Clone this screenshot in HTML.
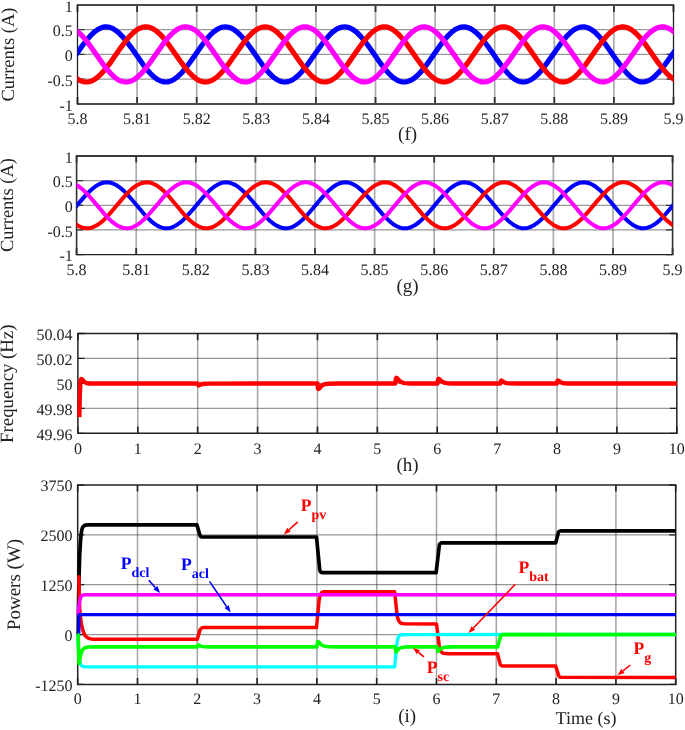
<!DOCTYPE html>
<html><head><meta charset="utf-8"><style>html,body{margin:0;padding:0;background:#fff;overflow:hidden;}svg{display:block;}text{text-rendering:geometricPrecision;}svg{will-change:transform;}</style></head>
<body><svg width="685" height="730" viewBox="0 0 685 730" font-family="'Liberation Serif', serif" font-size="16" fill="#222">
<rect width="685" height="730" fill="#fff"/>
<line x1="137.10" y1="4.95" x2="137.10" y2="103.9" stroke="#262626" stroke-opacity="0.38" stroke-width="1.7"/>
<line x1="196.70" y1="4.95" x2="196.70" y2="103.9" stroke="#262626" stroke-opacity="0.38" stroke-width="1.7"/>
<line x1="256.30" y1="4.95" x2="256.30" y2="103.9" stroke="#262626" stroke-opacity="0.38" stroke-width="1.7"/>
<line x1="315.90" y1="4.95" x2="315.90" y2="103.9" stroke="#262626" stroke-opacity="0.38" stroke-width="1.7"/>
<line x1="375.50" y1="4.95" x2="375.50" y2="103.9" stroke="#262626" stroke-opacity="0.38" stroke-width="1.7"/>
<line x1="435.10" y1="4.95" x2="435.10" y2="103.9" stroke="#262626" stroke-opacity="0.38" stroke-width="1.7"/>
<line x1="494.70" y1="4.95" x2="494.70" y2="103.9" stroke="#262626" stroke-opacity="0.38" stroke-width="1.7"/>
<line x1="554.30" y1="4.95" x2="554.30" y2="103.9" stroke="#262626" stroke-opacity="0.38" stroke-width="1.7"/>
<line x1="613.90" y1="4.95" x2="613.90" y2="103.9" stroke="#262626" stroke-opacity="0.38" stroke-width="1.7"/>
<line x1="77.5" y1="29.69" x2="673.5" y2="29.69" stroke="#262626" stroke-opacity="0.48" stroke-width="1.3"/>
<line x1="77.5" y1="54.43" x2="673.5" y2="54.43" stroke="#262626" stroke-opacity="0.48" stroke-width="1.3"/>
<line x1="77.5" y1="79.16" x2="673.5" y2="79.16" stroke="#262626" stroke-opacity="0.48" stroke-width="1.3"/>
<path d="M77.50,103.9V96.9M77.50,4.95V11.95M137.10,103.9V96.9M137.10,4.95V11.95M196.70,103.9V96.9M196.70,4.95V11.95M256.30,103.9V96.9M256.30,4.95V11.95M315.90,103.9V96.9M315.90,4.95V11.95M375.50,103.9V96.9M375.50,4.95V11.95M435.10,103.9V96.9M435.10,4.95V11.95M494.70,103.9V96.9M494.70,4.95V11.95M554.30,103.9V96.9M554.30,4.95V11.95M613.90,103.9V96.9M613.90,4.95V11.95M673.50,103.9V96.9M673.50,4.95V11.95" stroke="#333" stroke-width="1.8" fill="none"/>
<path d="M77.5,4.95H84.5M673.5,4.95H666.5M77.5,29.69H84.5M673.5,29.69H666.5M77.5,54.43H84.5M673.5,54.43H666.5M77.5,79.16H84.5M673.5,79.16H666.5M77.5,103.90H84.5M673.5,103.90H666.5" stroke="#333" stroke-width="1.3" fill="none"/>
<path d="M76.85,4.95H674.15" stroke="#4a4a4a" stroke-width="2.0"/>
<path d="M76.85,103.9H674.15" stroke="#4a4a4a" stroke-width="2.0"/>
<path d="M77.5,4.95V103.9M673.5,4.95V103.9" stroke="#222" stroke-width="1.3"/>
<clipPath id="cf"><rect x="77.50" y="-0.04999999999999982" width="596.00" height="108.95"/></clipPath>
<g clip-path="url(#cf)" fill="none" stroke-width="5.2" stroke-linejoin="round">
<path d="M52.5,80.6 55.4,79.0 58.4,76.7 61.4,73.9 64.3,70.7 67.3,67.0 70.3,63.0 80.2,48.8 84.1,43.3 87.6,38.9 91.1,35.1 94.5,31.8 98.0,29.3 100.0,28.3 101.5,27.7 103.5,27.1 104.9,26.9 106.4,26.9 108.4,27.1 109.9,27.4 111.9,28.1 113.4,28.9 115.3,30.1 118.8,32.8 122.8,36.8 126.7,41.6 131.2,47.6 143.1,64.6 147.0,69.7 150.5,73.6 152.5,75.6 154.5,77.3 156.4,78.8 158.4,80.0 160.4,80.9 162.4,81.6 164.4,81.9 165.8,82.0 167.3,81.9 168.8,81.6 170.3,81.2 172.3,80.3 173.8,79.5 175.7,78.2 179.2,75.3 182.7,71.7 186.6,66.8 190.6,61.5 202.5,44.5 206.0,40.0 209.4,36.0 211.4,33.9 213.4,32.1 216.8,29.6 218.8,28.5 220.3,27.8 222.3,27.2 223.8,27.0 225.3,26.9 227.2,27.0 228.7,27.3 230.7,28.0 232.2,28.7 234.2,29.8 236.2,31.3 238.1,32.9 242.1,37.0 246.1,41.8 250.5,47.8 262.4,64.8 265.9,69.2 269.3,73.2 271.3,75.2 273.3,77.0 275.3,78.5 277.3,79.8 279.2,80.8 281.2,81.5 283.2,81.9 284.7,82.0 286.2,81.9 288.1,81.6 289.6,81.1 291.6,80.3 293.1,79.4 295.1,78.1 298.5,75.2 302.0,71.5 306.0,66.7 309.9,61.3 321.3,45.0 324.8,40.5 328.3,36.4 332.2,32.4 335.7,29.8 337.7,28.6 339.1,28.0 341.1,27.3 342.6,27.0 344.6,26.9 346.1,27.0 347.6,27.2 349.5,27.8 351.0,28.5 353.0,29.6 355.0,31.0 357.0,32.6 360.9,36.6 364.9,41.3 369.3,47.3 381.7,64.9 385.2,69.4 388.7,73.3 390.6,75.3 392.6,77.1 394.6,78.6 396.6,79.8 398.6,80.8 400.5,81.5 402.5,81.9 404.0,82.0 405.5,81.9 407.5,81.5 409.0,81.1 410.9,80.2 412.4,79.4 414.4,78.0 417.9,75.0 421.3,71.4 425.3,66.5 429.3,61.1 440.6,44.8 444.1,40.3 447.6,36.2 451.0,32.8 454.5,30.0 456.5,28.8 458.0,28.1 460.0,27.4 461.4,27.1 463.4,26.9 464.9,26.9 466.9,27.3 468.9,27.9 470.4,28.5 472.3,29.7 474.3,31.1 476.3,32.7 480.3,36.7 484.2,41.5 488.7,47.5 500.6,64.4 504.5,69.5 508.0,73.5 510.0,75.5 511.9,77.2 513.9,78.7 515.9,79.9 517.9,80.9 519.9,81.5 521.9,81.9 523.3,82.0 524.8,81.9 526.3,81.6 527.8,81.2 529.8,80.4 532.7,78.6 536.2,75.8 540.2,71.8 544.1,67.0 548.1,61.6 560.5,44.0 563.9,39.5 567.4,35.6 569.4,33.6 571.4,31.8 573.3,30.3 575.3,29.0 577.3,28.1 579.3,27.4 581.3,27.0 582.8,26.9 584.2,26.9 586.2,27.3 588.2,27.9 590.2,28.9 592.2,30.1 594.1,31.6 596.1,33.3 598.1,35.3 601.6,39.2 605.5,44.3 617.9,61.9 622.4,67.9 626.8,73.1 628.8,75.1 630.8,76.9 632.8,78.4 634.7,79.7 636.7,80.7 638.7,81.4 640.7,81.9 642.7,82.0 644.6,81.8 646.6,81.3 649.6,80.1 652.6,78.2 655.5,75.7 658.5,72.7 661.5,69.3 664.9,64.8 678.3,45.8 681.3,41.9 684.3,38.2 687.2,34.9 690.2,32.1 693.2,29.9 696.1,28.2" stroke="#0000ff"/>
<path d="M52.5,48.7 60.9,60.8 65.3,66.9 69.8,72.3 73.8,76.2 75.7,77.9 77.7,79.2 79.7,80.4 81.7,81.2 83.7,81.7 85.6,82.0 87.1,82.0 89.1,81.7 90.6,81.3 92.6,80.5 94.1,79.7 96.0,78.4 99.5,75.5 103.0,71.9 105.9,68.4 109.4,63.9 120.8,47.6 124.8,42.2 128.7,37.3 132.7,33.2 134.7,31.5 136.6,30.0 138.6,28.8 140.6,27.9 142.6,27.3 144.6,26.9 146.5,26.9 148.5,27.1 150.0,27.5 152.0,28.3 153.5,29.1 155.4,30.3 158.9,33.2 162.4,36.7 165.4,40.2 168.8,44.7 180.2,61.0 184.2,66.4 188.1,71.3 192.1,75.4 194.1,77.2 196.1,78.7 198.0,79.9 199.5,80.7 201.5,81.4 203.5,81.8 205.5,82.0 206.9,81.9 208.4,81.6 210.4,81.0 211.9,80.4 213.9,79.3 217.3,76.7 219.3,74.9 221.3,72.9 224.8,68.9 228.2,64.4 240.1,47.4 244.1,42.0 248.0,37.2 252.0,33.1 254.0,31.4 256.0,30.0 257.9,28.8 259.4,28.1 261.4,27.4 263.4,27.0 264.9,26.9 266.9,27.0 268.3,27.3 270.3,27.9 271.8,28.6 273.8,29.7 277.3,32.4 281.2,36.3 284.7,40.4 288.1,44.9 299.5,61.2 303.5,66.6 307.5,71.4 311.4,75.6 314.9,78.4 316.9,79.7 318.3,80.5 320.3,81.3 321.8,81.7 323.8,82.0 325.3,82.0 326.8,81.8 328.7,81.3 330.7,80.6 332.7,79.5 336.2,77.0 338.2,75.3 340.1,73.3 343.6,69.3 347.1,64.9 359.4,47.2 363.4,41.9 367.4,37.1 371.3,33.0 374.8,30.2 376.8,29.0 378.3,28.2 380.2,27.5 381.7,27.1 383.7,26.9 385.2,26.9 386.7,27.1 388.7,27.6 390.6,28.4 392.6,29.5 396.1,32.1 398.1,33.9 400.0,35.9 403.5,39.9 407.0,44.4 418.9,61.4 422.8,66.7 426.8,71.6 430.7,75.7 434.2,78.5 436.2,79.8 437.7,80.5 439.7,81.3 441.1,81.7 443.1,82.0 444.6,82.0 446.1,81.8 448.1,81.3 450.1,80.5 452.0,79.4 455.5,76.9 457.5,75.2 459.5,73.1 462.9,69.2 466.4,64.7 478.3,47.7 482.7,41.7 486.7,36.9 490.7,32.9 494.1,30.1 496.1,28.9 497.6,28.2 499.6,27.4 501.1,27.1 503.0,26.9 504.5,26.9 506.0,27.1 508.0,27.7 510.0,28.5 511.9,29.6 515.4,32.2 519.4,36.0 522.8,40.1 526.3,44.6 537.7,60.8 542.2,66.9 546.1,71.7 549.6,75.3 553.0,78.3 555.0,79.6 556.5,80.4 558.5,81.2 560.0,81.6 562.0,81.9 563.4,82.0 564.9,81.8 566.9,81.4 568.9,80.7 570.9,79.7 572.4,78.7 574.3,77.2 576.3,75.5 578.3,73.5 581.8,69.6 585.7,64.5 597.6,47.6 602.1,41.5 606.0,36.8 609.5,33.2 613.0,30.4 614.9,29.1 616.4,28.3 618.4,27.5 619.9,27.2 621.9,26.9 623.4,26.9 624.8,27.1 626.8,27.5 628.3,28.1 630.3,29.1 631.8,30.0 633.8,31.5 635.7,33.2 637.7,35.1 641.2,39.0 645.1,44.1 658.0,62.4 663.0,69.0 665.9,72.4 668.4,75.0 670.9,77.2 673.4,79.0 676.3,80.7 679.3,81.7 680.8,81.9 682.3,82.0 684.8,81.7 687.2,81.0 690.2,79.6 693.2,77.5 696.1,74.9" stroke="#ff0000"/>
<path d="M52.5,33.9 55.4,31.3 58.4,29.3 61.4,27.8 63.8,27.1 66.3,26.9 67.8,26.9 69.3,27.2 72.3,28.2 75.2,29.8 77.7,31.7 80.2,33.9 82.7,36.4 85.6,39.9 90.6,46.4 103.5,64.8 107.4,69.8 110.9,73.7 112.9,75.7 114.8,77.4 116.8,78.8 118.3,79.8 120.3,80.8 121.8,81.3 123.8,81.8 125.2,82.0 126.7,82.0 128.7,81.7 130.2,81.3 132.2,80.5 133.7,79.7 135.6,78.5 139.1,75.6 142.6,72.1 146.5,67.3 151.0,61.3 162.9,44.3 166.8,39.2 170.3,35.3 172.3,33.4 174.3,31.6 176.2,30.1 177.7,29.2 179.7,28.2 181.7,27.4 183.7,27.0 185.2,26.9 186.6,26.9 188.6,27.2 190.1,27.7 192.1,28.5 193.6,29.3 195.6,30.6 199.0,33.5 202.5,37.1 206.4,41.9 210.9,48.0 222.3,64.3 225.8,68.8 229.2,72.8 233.2,76.7 236.7,79.3 238.6,80.4 240.6,81.2 242.6,81.7 244.1,81.9 245.6,82.0 247.5,81.8 249.0,81.4 251.0,80.7 252.5,80.0 254.5,78.7 257.9,76.0 261.9,71.9 265.9,67.1 270.3,61.1 282.2,44.2 285.7,39.7 289.1,35.7 291.1,33.7 293.1,31.9 296.6,29.4 298.5,28.3 300.5,27.6 302.5,27.1 304.0,26.9 305.5,26.9 307.5,27.1 308.9,27.5 310.9,28.3 312.4,29.1 314.4,30.3 317.9,33.2 321.8,37.3 325.8,42.1 329.7,47.5 341.6,64.4 345.1,68.9 348.6,73.0 350.5,75.0 352.5,76.8 356.0,79.3 358.0,80.4 359.9,81.2 361.9,81.8 363.4,81.9 364.9,82.0 366.9,81.7 368.4,81.4 370.3,80.6 371.8,79.9 373.8,78.6 377.3,75.8 381.2,71.8 385.2,67.0 389.2,61.6 401.5,44.0 405.0,39.5 408.5,35.6 410.4,33.6 412.4,31.8 415.9,29.3 417.9,28.3 419.9,27.5 421.8,27.0 423.3,26.9 424.8,26.9 426.8,27.2 428.3,27.6 430.3,28.4 431.7,29.1 433.7,30.4 437.2,33.3 441.1,37.4 445.1,42.3 449.1,47.7 460.5,63.9 463.9,68.5 467.4,72.6 471.3,76.5 474.8,79.1 476.8,80.2 478.3,80.9 480.3,81.6 481.7,81.9 483.7,82.0 485.2,81.9 487.2,81.5 489.2,80.8 490.7,80.1 492.6,78.9 494.6,77.4 496.6,75.7 500.6,71.6 504.5,66.8 508.5,61.4 520.4,44.5 523.8,40.0 527.3,36.0 529.3,33.9 531.3,32.1 534.7,29.6 536.7,28.5 538.2,27.8 540.2,27.2 541.7,27.0 543.1,26.9 545.1,27.0 547.1,27.5 549.1,28.2 550.6,28.9 552.5,30.2 554.5,31.7 556.5,33.4 560.5,37.6 564.4,42.4 568.4,47.8 579.8,64.1 583.2,68.6 586.2,72.1 589.7,75.7 593.2,78.5 595.1,79.8 596.6,80.5 598.6,81.3 600.1,81.7 602.1,82.0 604.0,81.9 606.0,81.6 608.0,80.9 610.0,80.0 612.0,78.8 613.9,77.3 615.9,75.6 619.9,71.5 623.8,66.6 627.8,61.3 639.2,45.0 642.7,40.4 645.6,36.9 649.1,33.3 652.6,30.5 654.5,29.2 656.0,28.4 658.0,27.6 659.5,27.2 661.5,26.9 663.0,26.9 664.9,27.1 666.9,27.7 668.9,28.5 670.9,29.6 672.9,31.0 674.8,32.6 678.8,36.6 683.3,42.0 687.7,48.0 696.1,60.2" stroke="#ff00ff"/>
</g>
<text x="77.50" y="123.9" text-anchor="middle">5.8</text>
<text x="137.10" y="123.9" text-anchor="middle">5.81</text>
<text x="196.70" y="123.9" text-anchor="middle">5.82</text>
<text x="256.30" y="123.9" text-anchor="middle">5.83</text>
<text x="315.90" y="123.9" text-anchor="middle">5.84</text>
<text x="375.50" y="123.9" text-anchor="middle">5.85</text>
<text x="435.10" y="123.9" text-anchor="middle">5.86</text>
<text x="494.70" y="123.9" text-anchor="middle">5.87</text>
<text x="554.30" y="123.9" text-anchor="middle">5.88</text>
<text x="613.90" y="123.9" text-anchor="middle">5.89</text>
<text x="673.50" y="123.9" text-anchor="middle">5.9</text>
<text x="72.8" y="11.55" text-anchor="end">1</text>
<text x="72.8" y="36.29" text-anchor="end">0.5</text>
<text x="72.8" y="61.03" text-anchor="end">0</text>
<text x="72.8" y="85.76" text-anchor="end">-0.5</text>
<text x="72.8" y="110.50" text-anchor="end">-1</text>
<text x="407.6" y="140.2" text-anchor="middle" font-size="19">(f)</text>
<text transform="translate(14,54.6) rotate(-90)" text-anchor="middle" font-size="18.5">Currents (A)</text>
<line x1="136.20" y1="156.0" x2="136.20" y2="254.6" stroke="#262626" stroke-opacity="0.38" stroke-width="1.7"/>
<line x1="195.80" y1="156.0" x2="195.80" y2="254.6" stroke="#262626" stroke-opacity="0.38" stroke-width="1.7"/>
<line x1="255.40" y1="156.0" x2="255.40" y2="254.6" stroke="#262626" stroke-opacity="0.38" stroke-width="1.7"/>
<line x1="315.00" y1="156.0" x2="315.00" y2="254.6" stroke="#262626" stroke-opacity="0.38" stroke-width="1.7"/>
<line x1="374.60" y1="156.0" x2="374.60" y2="254.6" stroke="#262626" stroke-opacity="0.38" stroke-width="1.7"/>
<line x1="434.20" y1="156.0" x2="434.20" y2="254.6" stroke="#262626" stroke-opacity="0.38" stroke-width="1.7"/>
<line x1="493.80" y1="156.0" x2="493.80" y2="254.6" stroke="#262626" stroke-opacity="0.38" stroke-width="1.7"/>
<line x1="553.40" y1="156.0" x2="553.40" y2="254.6" stroke="#262626" stroke-opacity="0.38" stroke-width="1.7"/>
<line x1="613.00" y1="156.0" x2="613.00" y2="254.6" stroke="#262626" stroke-opacity="0.38" stroke-width="1.7"/>
<line x1="76.6" y1="180.65" x2="672.6" y2="180.65" stroke="#262626" stroke-opacity="0.48" stroke-width="1.3"/>
<line x1="76.6" y1="205.30" x2="672.6" y2="205.30" stroke="#262626" stroke-opacity="0.48" stroke-width="1.3"/>
<line x1="76.6" y1="229.95" x2="672.6" y2="229.95" stroke="#262626" stroke-opacity="0.48" stroke-width="1.3"/>
<path d="M76.60,254.6V248.0M76.60,156.0V162.6M136.20,254.6V248.0M136.20,156.0V162.6M195.80,254.6V248.0M195.80,156.0V162.6M255.40,254.6V248.0M255.40,156.0V162.6M315.00,254.6V248.0M315.00,156.0V162.6M374.60,254.6V248.0M374.60,156.0V162.6M434.20,254.6V248.0M434.20,156.0V162.6M493.80,254.6V248.0M493.80,156.0V162.6M553.40,254.6V248.0M553.40,156.0V162.6M613.00,254.6V248.0M613.00,156.0V162.6M672.60,254.6V248.0M672.60,156.0V162.6" stroke="#333" stroke-width="1.8" fill="none"/>
<path d="M76.6,156.00H83.19999999999999M672.6,156.00H666.0M76.6,180.65H83.19999999999999M672.6,180.65H666.0M76.6,205.30H83.19999999999999M672.6,205.30H666.0M76.6,229.95H83.19999999999999M672.6,229.95H666.0M76.6,254.60H83.19999999999999M672.6,254.60H666.0" stroke="#333" stroke-width="1.3" fill="none"/>
<path d="M75.80,156.0H673.40" stroke="#3a3a3a" stroke-width="2.0"/>
<path d="M75.80,254.6H673.40" stroke="#222" stroke-width="1.4"/>
<path d="M76.6,156.0V254.6M672.6,156.0V254.6" stroke="#333" stroke-width="1.6"/>
<clipPath id="cg"><rect x="76.60" y="151.0" width="596.00" height="108.6"/></clipPath>
<g clip-path="url(#cg)" fill="none" stroke-width="4.0" stroke-linejoin="round">
<path d="M53.3,227.1 56.2,225.8 59.2,223.9 62.2,221.6 65.1,218.8 68.1,215.8 71.1,212.5 81.0,200.6 84.9,196.1 88.4,192.4 91.9,189.2 95.3,186.5 98.8,184.4 100.8,183.5 102.3,183.0 104.3,182.5 105.7,182.4 107.2,182.3 109.2,182.5 110.7,182.8 112.7,183.4 116.1,185.0 119.6,187.3 123.6,190.6 127.5,194.6 132.0,199.7 143.9,213.8 147.8,218.0 151.3,221.3 155.3,224.4 157.2,225.6 159.2,226.6 161.2,227.4 163.2,227.9 165.2,228.2 166.6,228.3 169.6,228.0 171.1,227.6 173.1,226.9 176.5,225.1 180.0,222.7 183.5,219.7 187.4,215.6 191.4,211.2 203.3,197.0 206.8,193.3 210.2,189.9 214.2,186.7 217.6,184.6 219.6,183.7 221.1,183.1 223.1,182.6 224.6,182.4 226.1,182.3 228.0,182.4 229.5,182.7 231.5,183.3 235.0,184.8 237.0,186.0 238.9,187.4 242.9,190.8 246.9,194.8 251.3,199.8 263.2,213.9 266.7,217.6 270.1,221.0 274.1,224.1 276.1,225.4 278.1,226.4 280.0,227.3 282.0,227.8 284.0,228.2 285.5,228.3 287.0,228.2 288.9,227.9 290.4,227.6 292.4,226.9 295.9,225.0 299.3,222.6 302.8,219.5 306.8,215.5 310.7,211.0 322.1,197.4 325.6,193.7 329.1,190.2 333.0,187.0 336.5,184.8 338.5,183.8 339.9,183.2 341.9,182.7 343.4,182.4 345.4,182.3 346.9,182.4 348.4,182.6 350.3,183.1 351.8,183.7 353.8,184.6 355.8,185.7 357.8,187.1 361.7,190.4 365.7,194.4 370.1,199.4 382.5,214.1 386.0,217.8 389.5,221.1 393.4,224.2 395.4,225.5 397.4,226.5 399.4,227.3 401.3,227.9 403.3,228.2 404.8,228.3 406.3,228.2 408.3,227.9 409.8,227.5 411.7,226.8 415.2,225.0 418.7,222.5 422.1,219.4 426.1,215.4 430.1,210.9 441.4,197.3 444.9,193.5 448.4,190.1 451.8,187.2 455.3,185.0 458.8,183.4 460.8,182.8 462.2,182.5 464.2,182.3 465.7,182.4 467.7,182.7 469.7,183.2 471.2,183.7 473.1,184.7 475.1,185.8 477.1,187.2 481.1,190.5 485.0,194.5 489.5,199.5 501.4,213.7 505.3,217.9 508.8,221.2 512.7,224.3 514.7,225.5 516.7,226.6 518.7,227.3 520.7,227.9 522.7,228.2 524.1,228.3 527.1,228.0 528.6,227.6 530.6,226.9 533.5,225.5 537.0,223.2 541.0,219.8 544.9,215.8 548.9,211.3 561.3,196.6 564.7,192.9 568.2,189.6 572.2,186.4 574.1,185.2 576.1,184.1 578.1,183.3 580.1,182.7 582.1,182.4 583.6,182.3 585.0,182.4 587.0,182.7 589.0,183.2 591.0,184.0 593.0,185.0 594.9,186.2 598.9,189.3 602.4,192.6 606.3,196.8 618.7,211.5 623.2,216.5 627.6,220.9 631.6,224.0 633.6,225.3 635.5,226.4 637.5,227.2 639.5,227.8 641.5,228.2 643.5,228.3 645.4,228.1 647.4,227.7 650.4,226.7 653.4,225.1 656.3,223.1 659.3,220.6 662.3,217.7 665.7,214.0 679.1,198.1 682.1,194.8 685.1,191.8 688.0,189.0 691.0,186.7 694.0,184.8 696.9,183.5" stroke="#0000ff"/>
<path d="M53.3,200.5 61.7,210.6 66.1,215.7 70.6,220.2 74.6,223.5 76.5,224.8 78.5,226.0 80.5,226.9 82.5,227.6 84.5,228.1 86.4,228.3 87.9,228.2 89.9,228.0 91.4,227.7 93.4,227.0 96.8,225.3 100.3,222.9 103.8,219.9 106.7,217.0 110.2,213.2 121.6,199.6 125.6,195.1 129.5,191.1 133.5,187.6 135.5,186.2 137.4,185.0 139.4,184.0 141.4,183.2 143.4,182.7 145.4,182.4 147.3,182.3 149.3,182.6 150.8,182.9 152.8,183.5 156.2,185.2 159.7,187.6 163.2,190.5 166.2,193.4 169.6,197.2 181.0,210.8 185.0,215.3 188.9,219.4 192.9,222.8 194.9,224.3 196.9,225.5 200.3,227.2 202.3,227.8 204.3,228.2 206.3,228.3 207.7,228.2 209.2,228.0 211.2,227.5 212.7,227.0 214.7,226.0 218.1,223.9 222.1,220.7 225.6,217.3 229.0,213.6 240.9,199.5 244.9,195.0 248.8,190.9 252.8,187.5 254.8,186.1 256.8,184.9 260.2,183.3 262.2,182.7 264.2,182.4 265.7,182.3 267.7,182.4 269.1,182.7 271.1,183.2 272.6,183.8 274.6,184.7 278.1,186.9 282.0,190.2 285.5,193.6 288.9,197.4 300.3,210.9 304.3,215.4 308.3,219.5 312.2,222.9 315.7,225.3 319.1,227.0 321.1,227.7 322.6,228.0 324.6,228.3 326.1,228.3 327.6,228.1 329.5,227.7 331.5,227.1 333.5,226.2 337.0,224.2 340.9,221.0 344.4,217.7 347.9,214.0 360.2,199.3 364.2,194.8 368.2,190.8 372.1,187.4 375.6,185.1 379.1,183.5 381.0,182.8 382.5,182.5 384.5,182.3 386.0,182.4 387.5,182.5 389.5,182.9 391.4,183.6 393.4,184.5 396.9,186.7 400.8,189.9 404.3,193.2 407.8,197.0 419.7,211.1 423.6,215.6 427.6,219.6 431.5,223.0 435.0,225.4 438.5,227.1 440.5,227.7 441.9,228.0 443.9,228.3 445.4,228.3 446.9,228.1 448.9,227.7 450.9,227.0 452.8,226.2 456.3,224.1 460.3,220.9 463.7,217.6 467.2,213.9 479.1,199.7 483.5,194.7 487.5,190.7 491.5,187.3 494.9,185.0 498.4,183.4 500.4,182.8 501.9,182.5 503.8,182.3 505.3,182.4 506.8,182.5 508.8,183.0 510.8,183.7 512.7,184.6 516.2,186.8 520.2,190.0 523.6,193.3 527.1,197.1 538.5,210.7 543.0,215.7 546.9,219.7 550.4,222.7 553.8,225.2 557.3,226.9 559.3,227.6 560.8,228.0 562.8,228.2 564.2,228.3 565.7,228.2 567.7,227.8 569.7,227.2 571.7,226.3 575.1,224.3 579.1,221.2 582.6,218.0 586.5,213.7 598.4,199.6 602.9,194.6 606.8,190.6 610.3,187.6 613.8,185.3 617.2,183.5 619.2,182.9 620.7,182.6 622.7,182.3 624.2,182.3 625.6,182.5 627.6,182.9 629.1,183.3 631.1,184.2 634.6,186.2 638.5,189.2 642.0,192.5 645.9,196.7 658.8,212.0 663.8,217.4 666.7,220.3 669.2,222.4 671.7,224.3 674.2,225.8 677.1,227.2 680.1,228.0 683.1,228.3 685.6,228.1 688.0,227.5 691.0,226.3 694.0,224.6 696.9,222.4" stroke="#ff0000"/>
<path d="M53.3,188.2 56.2,186.0 59.2,184.3 62.2,183.1 64.6,182.5 67.1,182.3 70.1,182.6 73.1,183.4 76.0,184.8 78.5,186.3 81.0,188.2 83.5,190.3 86.4,193.2 91.4,198.6 104.3,213.9 108.2,218.1 111.7,221.4 115.6,224.4 119.1,226.4 121.1,227.3 122.6,227.7 124.6,228.1 126.0,228.3 127.5,228.3 129.5,228.0 131.0,227.7 133.0,227.1 136.4,225.3 139.9,223.0 143.4,220.0 147.3,216.0 151.8,211.0 163.7,196.9 167.6,192.6 171.1,189.4 175.1,186.3 178.5,184.3 180.5,183.4 182.5,182.8 184.5,182.4 186.0,182.3 187.4,182.4 189.4,182.6 190.9,183.0 192.9,183.7 196.4,185.4 199.8,187.9 203.3,190.9 207.2,194.9 211.7,199.9 223.1,213.5 226.6,217.3 230.0,220.6 234.0,223.8 237.5,226.0 239.4,226.9 241.4,227.6 243.4,228.1 244.9,228.2 246.4,228.3 248.3,228.1 249.8,227.8 251.8,227.2 255.3,225.6 258.7,223.3 262.7,219.9 266.7,215.9 271.1,210.9 283.0,196.7 286.5,193.0 289.9,189.7 293.9,186.5 297.4,184.4 299.3,183.6 301.3,182.9 303.3,182.5 304.8,182.3 306.3,182.3 308.3,182.6 309.7,182.9 311.7,183.5 315.2,185.2 318.7,187.6 322.6,191.0 326.6,195.0 330.5,199.5 342.4,213.6 345.9,217.4 349.4,220.7 353.3,223.9 356.8,226.1 358.8,227.0 360.7,227.7 362.7,228.1 364.2,228.2 365.7,228.3 367.7,228.1 369.2,227.8 371.1,227.1 374.6,225.5 378.1,223.2 382.0,219.8 386.0,215.8 390.0,211.3 402.3,196.6 405.8,192.9 409.3,189.6 413.2,186.4 416.7,184.4 418.7,183.5 420.7,182.9 422.6,182.5 424.1,182.3 425.6,182.3 427.6,182.6 429.1,182.9 431.1,183.6 434.5,185.3 438.0,187.7 441.9,191.1 445.9,195.2 449.9,199.7 461.3,213.2 464.7,217.0 468.2,220.4 472.1,223.7 475.6,225.9 477.6,226.8 479.1,227.4 481.1,227.9 482.5,228.2 484.5,228.3 486.0,228.2 488.0,227.9 490.0,227.3 493.4,225.7 495.4,224.5 497.4,223.1 501.4,219.7 505.3,215.6 509.3,211.1 521.2,197.0 524.6,193.3 528.1,189.9 532.1,186.7 535.5,184.6 537.5,183.6 539.0,183.1 541.0,182.6 542.5,182.4 543.9,182.3 545.9,182.4 547.9,182.8 549.9,183.4 553.3,185.1 555.3,186.3 557.3,187.8 561.3,191.2 565.2,195.3 569.2,199.8 580.6,213.4 584.0,217.2 587.0,220.1 590.5,223.0 594.0,225.4 597.4,227.1 599.4,227.7 600.9,228.0 602.9,228.3 604.8,228.2 606.8,227.9 608.8,227.4 610.8,226.6 612.8,225.6 614.7,224.4 616.7,223.0 620.7,219.5 624.6,215.5 628.6,211.0 640.0,197.4 643.5,193.6 646.4,190.7 649.9,187.7 653.4,185.3 656.8,183.6 658.8,182.9 660.3,182.6 662.3,182.4 663.8,182.3 665.7,182.5 667.7,183.0 669.7,183.7 671.7,184.6 673.7,185.8 675.6,187.1 679.6,190.4 684.1,194.9 688.5,200.0 696.9,210.1" stroke="#ff00ff"/>
</g>
<text x="76.60" y="275.0" text-anchor="middle">5.8</text>
<text x="136.20" y="275.0" text-anchor="middle">5.81</text>
<text x="195.80" y="275.0" text-anchor="middle">5.82</text>
<text x="255.40" y="275.0" text-anchor="middle">5.83</text>
<text x="315.00" y="275.0" text-anchor="middle">5.84</text>
<text x="374.60" y="275.0" text-anchor="middle">5.85</text>
<text x="434.20" y="275.0" text-anchor="middle">5.86</text>
<text x="493.80" y="275.0" text-anchor="middle">5.87</text>
<text x="553.40" y="275.0" text-anchor="middle">5.88</text>
<text x="613.00" y="275.0" text-anchor="middle">5.89</text>
<text x="672.60" y="275.0" text-anchor="middle">5.9</text>
<text x="72.8" y="162.60" text-anchor="end">1</text>
<text x="72.8" y="187.25" text-anchor="end">0.5</text>
<text x="72.8" y="211.90" text-anchor="end">0</text>
<text x="72.8" y="236.55" text-anchor="end">-0.5</text>
<text x="72.8" y="261.20" text-anchor="end">-1</text>
<text x="407.6" y="291.5" text-anchor="middle" font-size="19">(g)</text>
<text transform="translate(13,205) rotate(-90)" text-anchor="middle" font-size="18.5">Currents (A)</text>
<line x1="137.79" y1="333.5" x2="137.79" y2="433.3" stroke="#262626" stroke-opacity="0.42" stroke-width="1.5"/>
<line x1="197.68" y1="333.5" x2="197.68" y2="433.3" stroke="#262626" stroke-opacity="0.42" stroke-width="1.5"/>
<line x1="257.57" y1="333.5" x2="257.57" y2="433.3" stroke="#262626" stroke-opacity="0.42" stroke-width="1.5"/>
<line x1="317.46" y1="333.5" x2="317.46" y2="433.3" stroke="#262626" stroke-opacity="0.42" stroke-width="1.5"/>
<line x1="377.35" y1="333.5" x2="377.35" y2="433.3" stroke="#262626" stroke-opacity="0.42" stroke-width="1.5"/>
<line x1="437.24" y1="333.5" x2="437.24" y2="433.3" stroke="#262626" stroke-opacity="0.42" stroke-width="1.5"/>
<line x1="497.13" y1="333.5" x2="497.13" y2="433.3" stroke="#262626" stroke-opacity="0.42" stroke-width="1.5"/>
<line x1="557.02" y1="333.5" x2="557.02" y2="433.3" stroke="#262626" stroke-opacity="0.42" stroke-width="1.5"/>
<line x1="616.91" y1="333.5" x2="616.91" y2="433.3" stroke="#262626" stroke-opacity="0.42" stroke-width="1.5"/>
<line x1="77.9" y1="358.45" x2="676.8" y2="358.45" stroke="#262626" stroke-opacity="0.48" stroke-width="1.3"/>
<line x1="77.9" y1="383.40" x2="676.8" y2="383.40" stroke="#262626" stroke-opacity="0.48" stroke-width="1.3"/>
<line x1="77.9" y1="408.35" x2="676.8" y2="408.35" stroke="#262626" stroke-opacity="0.48" stroke-width="1.3"/>
<path d="M77.90,433.3V426.5M77.90,333.5V340.3M137.79,433.3V426.5M137.79,333.5V340.3M197.68,433.3V426.5M197.68,333.5V340.3M257.57,433.3V426.5M257.57,333.5V340.3M317.46,433.3V426.5M317.46,333.5V340.3M377.35,433.3V426.5M377.35,333.5V340.3M437.24,433.3V426.5M437.24,333.5V340.3M497.13,433.3V426.5M497.13,333.5V340.3M557.02,433.3V426.5M557.02,333.5V340.3M616.91,433.3V426.5M616.91,333.5V340.3M676.80,433.3V426.5M676.80,333.5V340.3" stroke="#222" stroke-width="1.6" fill="none"/>
<path d="M77.9,333.50H84.7M676.8,333.50H670.0M77.9,358.45H84.7M676.8,358.45H670.0M77.9,383.40H84.7M676.8,383.40H670.0M77.9,408.35H84.7M676.8,408.35H670.0M77.9,433.30H84.7M676.8,433.30H670.0" stroke="#222" stroke-width="1.3" fill="none"/>
<path d="M77.15,333.5H677.55" stroke="#222" stroke-width="1.5"/>
<path d="M77.15,433.3H677.55" stroke="#222" stroke-width="1.5"/>
<path d="M77.9,333.5V433.3M676.8,333.5V433.3" stroke="#222" stroke-width="1.5"/>
<path d="M79.3,417.1 79.8,395.9 80.4,381.5 81.2,379.0 82.4,379.7 83.9,381.5 86.3,383.0 89.9,383.5 197.7,383.5 198.2,385.1 198.6,385.4 201.0,384.4 202.7,384.0 205.1,383.7 208.5,383.6 317.5,383.5 317.9,387.8 318.2,388.7 318.4,389.0 318.7,389.0 319.1,388.7 321.1,386.3 322.7,385.0 323.9,384.5 325.1,384.1 328.2,383.7 336.9,383.5 395.3,383.5 395.8,379.1 396.0,378.3 396.3,377.9 396.5,377.8 397.0,378.1 399.4,380.8 400.6,381.7 401.8,382.3 403.2,382.8 405.1,383.1 410.6,383.5 437.5,383.5 438.0,380.2 438.2,379.3 438.4,378.9 438.7,378.8 439.2,379.0 440.8,380.6 441.8,381.4 442.7,382.0 443.9,382.5 445.4,382.9 447.3,383.2 452.6,383.5 500.2,383.5 500.5,383.0 501.0,380.9 501.2,380.6 501.4,380.5 503.6,382.0 504.8,382.6 506.7,383.1 509.3,383.4 516.5,383.5 557.0,383.5 557.5,381.0 557.7,380.6 558.0,380.5 558.5,380.7 560.4,382.1 562.1,382.8 564.4,383.3 567.8,383.5 676.8,383.5" fill="none" stroke="#ff0000" stroke-width="4.4" stroke-linejoin="round"/>
<text x="77.90" y="453.5" text-anchor="middle">0</text>
<text x="137.79" y="453.5" text-anchor="middle">1</text>
<text x="197.68" y="453.5" text-anchor="middle">2</text>
<text x="257.57" y="453.5" text-anchor="middle">3</text>
<text x="317.46" y="453.5" text-anchor="middle">4</text>
<text x="377.35" y="453.5" text-anchor="middle">5</text>
<text x="437.24" y="453.5" text-anchor="middle">6</text>
<text x="497.13" y="453.5" text-anchor="middle">7</text>
<text x="557.02" y="453.5" text-anchor="middle">8</text>
<text x="616.91" y="453.5" text-anchor="middle">9</text>
<text x="676.80" y="453.5" text-anchor="middle">10</text>
<text x="72.5" y="339.90" text-anchor="end">50.04</text>
<text x="72.5" y="364.85" text-anchor="end">50.02</text>
<text x="72.5" y="389.80" text-anchor="end">50</text>
<text x="72.5" y="414.75" text-anchor="end">49.98</text>
<text x="72.5" y="439.70" text-anchor="end">49.96</text>
<text x="407.6" y="471" text-anchor="middle" font-size="19">(h)</text>
<text transform="translate(13,383.7) rotate(-90)" text-anchor="middle" font-size="18.8">Frequency (Hz)</text>
<line x1="137.50" y1="485.0" x2="137.50" y2="684.4" stroke="#262626" stroke-opacity="0.42" stroke-width="1.5"/>
<line x1="197.30" y1="485.0" x2="197.30" y2="684.4" stroke="#262626" stroke-opacity="0.42" stroke-width="1.5"/>
<line x1="257.10" y1="485.0" x2="257.10" y2="684.4" stroke="#262626" stroke-opacity="0.42" stroke-width="1.5"/>
<line x1="316.90" y1="485.0" x2="316.90" y2="684.4" stroke="#262626" stroke-opacity="0.42" stroke-width="1.5"/>
<line x1="376.70" y1="485.0" x2="376.70" y2="684.4" stroke="#262626" stroke-opacity="0.42" stroke-width="1.5"/>
<line x1="436.50" y1="485.0" x2="436.50" y2="684.4" stroke="#262626" stroke-opacity="0.42" stroke-width="1.5"/>
<line x1="496.30" y1="485.0" x2="496.30" y2="684.4" stroke="#262626" stroke-opacity="0.42" stroke-width="1.5"/>
<line x1="556.10" y1="485.0" x2="556.10" y2="684.4" stroke="#262626" stroke-opacity="0.42" stroke-width="1.5"/>
<line x1="615.90" y1="485.0" x2="615.90" y2="684.4" stroke="#262626" stroke-opacity="0.42" stroke-width="1.5"/>
<line x1="77.7" y1="534.85" x2="675.7" y2="534.85" stroke="#262626" stroke-opacity="0.48" stroke-width="1.3"/>
<line x1="77.7" y1="584.70" x2="675.7" y2="584.70" stroke="#262626" stroke-opacity="0.48" stroke-width="1.3"/>
<line x1="77.7" y1="634.55" x2="675.7" y2="634.55" stroke="#262626" stroke-opacity="0.48" stroke-width="1.3"/>
<path d="M77.70,684.4V677.9M77.70,485.0V491.5M137.50,684.4V677.9M137.50,485.0V491.5M197.30,684.4V677.9M197.30,485.0V491.5M257.10,684.4V677.9M257.10,485.0V491.5M316.90,684.4V677.9M316.90,485.0V491.5M376.70,684.4V677.9M376.70,485.0V491.5M436.50,684.4V677.9M436.50,485.0V491.5M496.30,684.4V677.9M496.30,485.0V491.5M556.10,684.4V677.9M556.10,485.0V491.5M615.90,684.4V677.9M615.90,485.0V491.5M675.70,684.4V677.9M675.70,485.0V491.5" stroke="#222" stroke-width="1.6" fill="none"/>
<path d="M77.7,485.00H84.2M675.7,485.00H669.2M77.7,534.85H84.2M675.7,534.85H669.2M77.7,584.70H84.2M675.7,584.70H669.2M77.7,634.55H84.2M675.7,634.55H669.2M77.7,684.40H84.2M675.7,684.40H669.2" stroke="#222" stroke-width="1.3" fill="none"/>
<path d="M76.95,485.0H676.45" stroke="#222" stroke-width="1.5"/>
<path d="M76.95,684.4H676.45" stroke="#222" stroke-width="1.5"/>
<path d="M77.7,485.0V684.4M675.7,485.0V684.4" stroke="#222" stroke-width="1.5"/>
<path d="M77.7,634.5 78.2,634.5 78.6,600.3 79.1,574.2 79.7,554.8 80.5,541.3 81.2,533.4 81.7,530.6 82.2,528.5 82.8,527.1 83.6,526.1 84.5,525.4 85.7,525.1 87.5,524.9 91.1,524.9 196.9,524.9 200.1,535.7 200.4,536.3 200.8,536.6 201.8,537.0 316.5,537.0 319.7,569.5 320.2,571.3 321.0,572.2 322.0,572.6 324.1,572.7 436.1,572.7 439.3,545.6 439.7,544.2 440.2,543.6 440.8,543.1 441.8,542.9 555.7,542.8 558.5,532.3 559.0,531.6 559.4,531.2 560.2,531.0 561.1,530.9 675.7,530.9" fill="none" stroke="#000" stroke-width="3.7" stroke-linejoin="round"/>
<path d="M77.7,576.7 78.8,576.7 79.2,595.7 79.7,608.4 80.6,618.3 81.3,622.8 82.0,626.7 82.7,629.6 83.5,632.1 84.3,634.1 85.3,635.7 86.4,636.9 87.7,637.8 89.1,638.4 90.9,638.9 94.5,639.2 100.8,639.3 197.3,639.3 199.7,631.0 200.3,629.5 200.9,628.7 201.6,628.1 202.6,627.7 203.8,627.5 209.1,627.4 316.5,627.4 319.2,599.4 319.8,596.3 320.4,594.5 321.2,593.1 322.3,592.2 324.0,591.8 327.2,591.7 394.6,591.7 397.0,614.2 397.5,616.9 398.1,619.2 398.7,620.7 399.4,621.9 400.3,622.7 401.2,623.3 402.4,623.6 404.2,623.8 436.5,623.9 439.4,647.1 440.1,649.6 440.9,651.4 442.0,652.6 443.3,653.2 445.2,653.6 448.7,653.7 497.5,653.7 500.2,664.3 500.8,665.2 501.7,665.7 503.0,666.0 505.4,666.0 555.7,666.1 558.9,676.2 559.2,676.7 559.7,677.0 560.9,677.3 675.7,677.4" fill="none" stroke="#ff0000" stroke-width="3.5" stroke-linejoin="round"/>
<path d="M77.7,614.6 78.3,614.6 78.7,608.4 79.3,603.6 79.9,600.1 80.6,597.7 81.3,596.2 82.3,595.4 83.7,594.9 85.7,594.7 675.7,594.7" fill="none" stroke="#ff00ff" stroke-width="3.6" stroke-linejoin="round"/>
<path d="M77.7,634.5 78.8,634.5 79.0,616.7 79.3,615.0 79.4,614.7 79.8,614.6 675.7,614.6" fill="none" stroke="#0000ff" stroke-width="3.2" stroke-linejoin="round"/>
<path d="M77.7,634.5 78.4,648.7 79.3,658.0 79.8,661.1 80.4,663.4 81.1,664.9 81.9,665.9 82.6,666.3 83.5,666.6 86.1,666.8 119.6,666.9 394.6,666.9 397.0,642.6 397.5,640.0 398.2,637.5 399.1,636.0 399.7,635.4 400.3,635.1 401.9,634.7 408.4,634.6 675.7,634.5" fill="none" stroke="#00ffff" stroke-width="3.4" stroke-linejoin="round"/>
<path d="M77.7,634.5 78.1,634.5 79.0,662.6 79.1,663.5 80.0,658.1 80.7,654.8 81.5,652.1 82.5,650.1 83.6,648.7 85.0,647.8 86.8,647.3 89.4,647.0 97.3,646.9 197.3,646.9 197.7,645.5 197.9,645.1 198.3,645.0 200.6,646.0 202.2,646.5 204.6,646.7 208.2,646.9 316.9,646.9 317.4,642.8 317.7,641.7 318.1,641.5 318.7,641.9 320.8,644.3 322.5,645.4 323.7,645.9 325.0,646.3 328.4,646.7 337.7,646.9 395.2,646.9 395.6,650.5 395.8,651.5 396.2,651.9 396.7,651.5 398.3,649.4 399.5,648.4 401.2,647.7 403.5,647.2 406.0,647.0 409.8,646.9 437.1,646.9 437.5,650.2 437.7,651.1 438.1,651.5 438.5,651.2 440.3,649.1 441.6,648.2 443.6,647.5 446.3,647.1 453.6,646.9 497.5,646.9 500.5,636.4 501.0,635.6 501.6,635.1 502.4,634.8 503.5,634.6 675.7,634.5" fill="none" stroke="#00ff00" stroke-width="3.6" stroke-linejoin="round"/>
<text x="77.70" y="704.3" text-anchor="middle">0</text>
<text x="137.50" y="704.3" text-anchor="middle">1</text>
<text x="197.30" y="704.3" text-anchor="middle">2</text>
<text x="257.10" y="704.3" text-anchor="middle">3</text>
<text x="316.90" y="704.3" text-anchor="middle">4</text>
<text x="376.70" y="704.3" text-anchor="middle">5</text>
<text x="436.50" y="704.3" text-anchor="middle">6</text>
<text x="496.30" y="704.3" text-anchor="middle">7</text>
<text x="556.10" y="704.3" text-anchor="middle">8</text>
<text x="615.90" y="704.3" text-anchor="middle">9</text>
<text x="675.70" y="704.3" text-anchor="middle">10</text>
<text x="72.5" y="491.40" text-anchor="end">3750</text>
<text x="72.5" y="541.25" text-anchor="end">2500</text>
<text x="72.5" y="591.10" text-anchor="end">1250</text>
<text x="72.5" y="640.95" text-anchor="end">0</text>
<text x="72.5" y="690.80" text-anchor="end">-1250</text>
<text x="407.2" y="721.7" text-anchor="middle" font-size="19">(i)</text>
<text x="586" y="724.2" text-anchor="middle" font-size="18">Time (s)</text>
<text transform="translate(20.3,584.5) rotate(-90)" text-anchor="middle" font-size="19">Powers (W)</text>
<text x="120.8" y="569.2" fill="#0000ff" font-weight="bold" font-size="17.6">P<tspan dy="8.2" font-size="14">dcl</tspan></text>
<line x1="148.8" y1="580.2" x2="155.47" y2="587.75" stroke="#0000ff" stroke-width="1.6"/>
<path d="M160.1,593 L153.52,589.47 L157.42,586.03 Z" fill="#0000ff"/>
<text x="181" y="569.5" fill="#0000ff" font-weight="bold" font-size="17.6">P<tspan dy="8.2" font-size="14">acl</tspan></text>
<line x1="209.5" y1="581.4" x2="226.66" y2="606.61" stroke="#0000ff" stroke-width="1.6"/>
<path d="M230.6,612.4 L224.51,608.08 L228.81,605.15 Z" fill="#0000ff"/>
<text x="300.8" y="511" fill="#ff0000" font-weight="bold" font-size="17.6">P<tspan dy="7.5" font-size="14">pv</tspan></text>
<line x1="297.8" y1="521.8" x2="289.00" y2="529.72" stroke="#ff0000" stroke-width="1.6"/>
<path d="M283.8,534.4 L287.26,527.78 L290.74,531.65 Z" fill="#ff0000"/>
<text x="518.4" y="572.8" fill="#ff0000" font-weight="bold" font-size="17.6">P<tspan dy="8.2" font-size="14">bat</tspan></text>
<line x1="515.3" y1="584.3" x2="473.35" y2="628.05" stroke="#ff0000" stroke-width="1.6"/>
<path d="M468.5,633.1 L471.47,626.25 L475.22,629.85 Z" fill="#ff0000"/>
<text x="426.8" y="672.8" fill="#ff0000" font-weight="bold" font-size="17.6">P<tspan dy="8.2" font-size="14">sc</tspan></text>
<line x1="424" y1="656.8" x2="418.44" y2="652.30" stroke="#ff0000" stroke-width="1.6"/>
<path d="M413,647.9 L420.08,650.28 L416.81,654.32 Z" fill="#ff0000"/>
<text x="633.4" y="654" fill="#ff0000" font-weight="bold" font-size="17.6">P<tspan dy="7.5" font-size="14">g</tspan></text>
<line x1="630.3" y1="665" x2="622.95" y2="670.91" stroke="#ff0000" stroke-width="1.6"/>
<path d="M617.5,675.3 L621.32,668.89 L624.58,672.94 Z" fill="#ff0000"/>
</svg></body></html>
